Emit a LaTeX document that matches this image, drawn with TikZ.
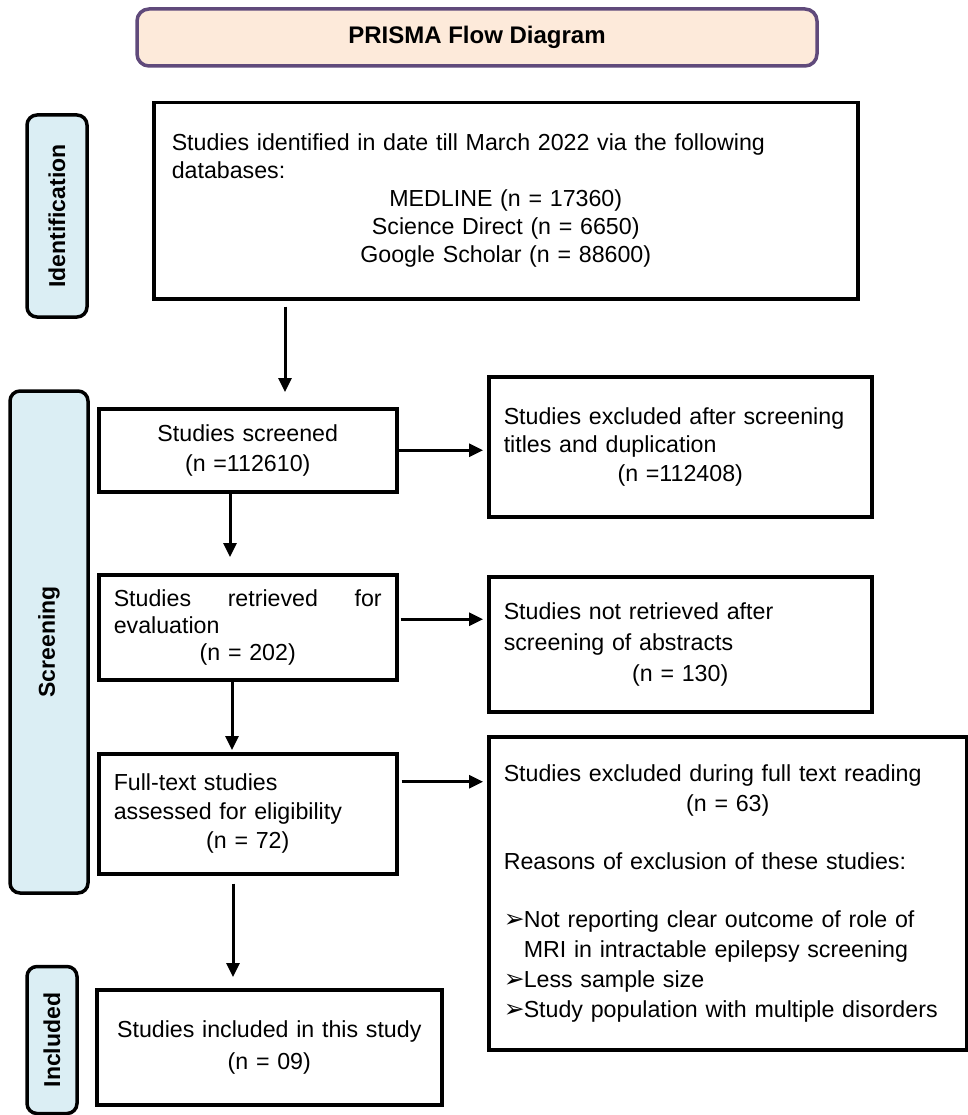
\documentclass[tikz,border=0pt]{standalone}
\usepackage{fontspec}
\setmainfont{Liberation Sans}
\newfontfamily\symfont{DejaVu Sans}
\usepackage{tikz}
\usetikzlibrary{arrows.meta, positioning}
\usepackage{xcolor}
\definecolor{peach}{RGB}{253,234,218}
\definecolor{lilac}{RGB}{96,74,123}
\definecolor{paleblue}{RGB}{219,238,244}
\newcommand{\bul}{\makebox[20pt][l]{\symfont\fontsize{25}{25}\selectfont ➢}}
\newcommand{\ctrline}[1]{\hspace*{\fill}#1\hspace*{\fill}\null}
\tikzset{
  box/.style={draw, line width=3.5pt, rectangle, anchor=north west, inner xsep=15pt, inner ysep=0pt, align=left, font=\fontsize{23.2}{28.5}\selectfont},
  stage/.style={draw, line width=3.5pt, fill=paleblue, rounded corners=10pt, rotate=90, inner sep=0pt, font=\bfseries\fontsize{23}{28}\selectfont},
  flow/.style={line width=3pt, -{Triangle[length=14pt, width=13pt]}}
}

\begin{document}
\begin{tikzpicture}[x=1pt, y=-1pt]
  \useasboundingbox (0,0) rectangle (967,1115);
  \node[draw=lilac, fill=peach, line width=3.5pt, rounded corners=12pt, minimum width=680pt, minimum height=57pt, font=\bfseries\fontsize{24}{28}\selectfont] (title) at (477,37.5) {PRISMA Flow Diagram};

  \node[stage, minimum width=202pt, minimum height=60pt] (identlab) at (57,216) {Identification};
  \node[stage, minimum width=502pt, minimum height=78pt] (screenlab) at (49,642) {Screening};
  \node[stage, minimum width=147pt, minimum height=50pt] (inclab) at (52,1040) {Included};

  \node[box, inner xsep=18pt, text width=668pt, minimum height=196pt, font=\fontsize{23.2}{28}\selectfont] (ident) at (152,101)
    {Studies identified in date till March 2022 via the following\\ databases:\\ \ctrline{MEDLINE (n = 17360)}\\ \ctrline{Science Direct (n = 6650)}\\ \ctrline{Google Scholar (n = 88600)}};
  \node[box, text width=268pt, minimum height=83pt, align=center, font=\fontsize{23.2}{30}\selectfont] (screened) at (97,407)
    {Studies screened\\ (n =112610)};
  \node[box, text width=353pt, minimum height=140pt] (excla) at (487,375)
    {Studies excluded after screening\\ titles and duplication\\ \ctrline{(n =112408)}};
  \node[box, text width=268pt, minimum height=105pt, font=\fontsize{23.2}{27}\selectfont] (retrieved) at (97,573)
    {Studies\hspace{\fill}retrieved\hspace{\fill}for\\ evaluation\\ \ctrline{(n = 202)}};
  \node[box, text width=353pt, minimum height=135pt, font=\fontsize{23.2}{31}\selectfont] (notret) at (487,575)
    {Studies not retrieved after\\ screening of abstracts\\ \ctrline{(n = 130)}};
  \node[box, text width=268pt, minimum height=120pt, font=\fontsize{23.2}{29}\selectfont] (fulltext) at (97,752)
    {Full-text studies\\ assessed for eligibility\\ \ctrline{(n = 72)}};
  \node[box, text width=448pt, minimum height=313pt, font=\fontsize{23.2}{30}\selectfont] (exclc) at (487,735)
    {Studies excluded during full text reading\\ \ctrline{(n = 63)}\\[28pt]
     Reasons of exclusion of these studies:\\[28pt]
     \bul Not reporting clear outcome of role of\\ \hspace*{20pt}MRI in intractable epilepsy screening\\
     \bul Less sample size\\ \bul Study population with multiple disorders};
  \node[box, text width=315pt, minimum height=115pt, align=center, font=\fontsize{23.2}{32}\selectfont] (included) at (95,988)
    {Studies included in this study\\ (n = 09)};

  \coordinate (ca) at (285,0);
  \coordinate (cb) at (230,0);
  \coordinate (cc) at (232,0);
  \coordinate (cd) at (233,0);
  \draw[flow, shorten <=6pt, shorten >=15pt] (ident.south -| ca) -- (screened.north -| ca);
  \draw[flow, shorten >=4pt] (screened.east) -- (screened.east -| excla.west);
  \draw[flow, shorten >=16pt] (screened.south -| cb) -- (retrieved.north -| cb);
  \draw[flow, shorten <=2pt, shorten >=4pt] ([yshift=8pt]retrieved.east) -- ([yshift=8pt]retrieved.east -| notret.west);
  \draw[flow, shorten >=2pt] (retrieved.south -| cc) -- (fulltext.north -| cc);
  \draw[flow, shorten <=3pt, shorten >=4pt] ([yshift=32pt]fulltext.east) -- ([yshift=32pt]fulltext.east -| exclc.west);
  \draw[flow, shorten <=8pt, shorten >=11pt] (fulltext.south -| cd) -- (included.north -| cd);
\end{tikzpicture}
\end{document}
